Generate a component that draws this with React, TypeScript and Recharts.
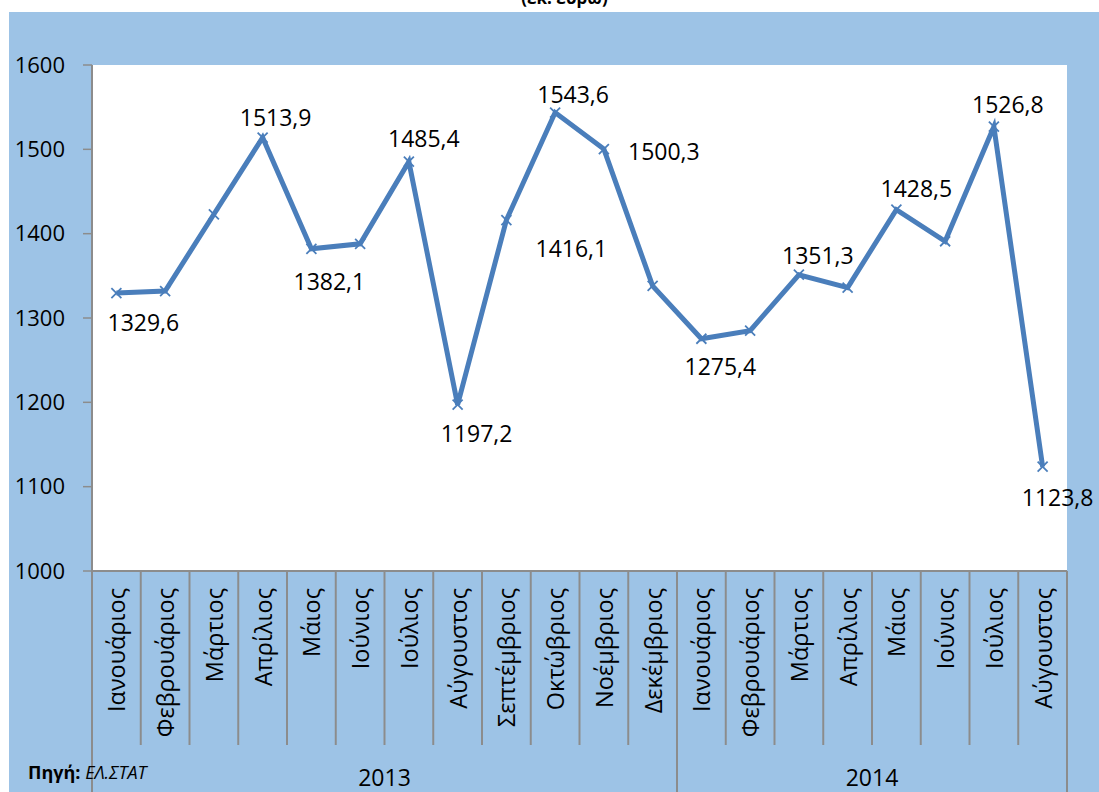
import { LineChart, Line, XAxis, YAxis, CartesianGrid, LabelList } from 'recharts';

const months2013 = [
  'Ιανουάριος', 'Φεβρουάριος', 'Μάρτιος', 'Απρίλιος', 'Μάιος', 'Ιούνιος',
  'Ιούλιος', 'Αύγουστος', 'Σεπτέμβριος', 'Οκτώβριος', 'Νοέμβριος', 'Δεκέμβριος',
];
const months2014 = [
  'Ιανουάριος', 'Φεβρουάριος', 'Μάρτιος', 'Απρίλιος', 'Μάιος', 'Ιούνιος',
  'Ιούλιος', 'Αύγουστος',
];
const values2013 = [1329.6, 1332, 1423, 1513.9, 1382.1, 1388, 1485.4, 1197.2, 1416.1, 1543.6, 1500.3, 1338];
const values2014 = [1275.4, 1285, 1351.3, 1336, 1428.5, 1391, 1526.8, 1123.8];
const years = ['2013', '2014'];
const yTicks = [1000, 1100, 1200, 1300, 1400, 1500, 1600];
// points that carry a data label in the original
const labelled = [0, 3, 4, 6, 7, 8, 9, 10, 12, 14, 16, 18, 19];

const data = [
  ...months2013.map((m, i) => ({ month: m, year: years[0], value: values2013[i] })),
  ...months2014.map((m, i) => ({ month: m, year: years[1], value: values2014[i] })),
];

// label placement relative to the point (dx, dy)
const LABEL_POS: Record<number, [number, number]> = {
  0: [27, 29], 3: [13, -21], 4: [18, 32], 6: [15, -24], 7: [19, 28],
  8: [65, 28], 9: [18, -19], 10: [60, 2], 12: [19, 27], 14: [19, -20],
  16: [20, -22], 18: [14, -23], 19: [15, 30],
};

const W = 1099;
const H = 792;
const LEFT = 92;
const RIGHT = 32;
const TOP = 65;
const BOTTOM = 571;
const BAND = (W - LEFT - RIGHT) / data.length;
const LINE = '#4A7EBB';
const GRID = '#8C8C8C';
const FONT = '"Open Sans", sans-serif';

const MonthTick = (props: any) => {
  const { x, payload } = props;
  const i = payload.index;
  const d = data[i];
  const groupStart = i === 0 || data[i - 1].year !== d.year;
  const groupIdx = data.filter((r) => r.year === d.year).map((r) => data.indexOf(r));
  const count = groupIdx.length;
  const mid = groupIdx[0] + Math.floor((count - 1) / 2);
  const yearX = count % 2 === 0 ? x + BAND / 2 : x;
  return (
    <g>
      <line x1={x - BAND / 2} x2={x - BAND / 2} y1={BOTTOM} y2={groupStart ? H : 745} stroke={GRID} strokeWidth={2} />
      {i === data.length - 1 && (
        <line x1={x + BAND / 2} x2={x + BAND / 2} y1={BOTTOM} y2={H} stroke={GRID} strokeWidth={2} />
      )}
      <text
        x={x}
        y={588}
        transform={`rotate(-90 ${x} 588)`}
        textAnchor="end"
        dominantBaseline="central"
        fontSize={23.5}
        fontFamily={FONT}
        fill="#000"
      >
        {d.month}
      </text>
      {i === mid && (
        <text x={yearX} y={786} textAnchor="middle" fontSize={23} fontFamily={FONT} fill="#000">
          {d.year}
        </text>
      )}
    </g>
  );
};

const Cross = (props: any) => {
  const { cx, cy, index } = props;
  const s = 5;
  return (
    <g key={`dot-${index}`}>
      <line x1={cx - s} y1={cy - s} x2={cx + s} y2={cy + s} stroke={LINE} strokeWidth={1.8} />
      <line x1={cx - s} y1={cy + s} x2={cx + s} y2={cy - s} stroke={LINE} strokeWidth={1.8} />
    </g>
  );
};

const ValueLabel = (props: any) => {
  const { x, y, value, index } = props;
  if (!labelled.includes(index)) return null;
  const [dx, dy] = LABEL_POS[index] ?? [0, -20];
  return (
    <text
      x={x + dx}
      y={y + dy}
      textAnchor="middle"
      dominantBaseline="central"
      fontSize={23}
      fontFamily={FONT}
      fill="#000"
    >
      {Number(value).toFixed(1).replace('.', ',')}
    </text>
  );
};

export default function App() {
  return (
    <div style={{ position: 'absolute', left: 0, top: 0, width: W, height: H, overflow: 'hidden', background: '#fff' }}>
      <div
        style={{
          position: 'absolute',
          left: 0,
          width: W,
          top: -14,
          textAlign: 'center',
          fontFamily: FONT,
          fontWeight: 700,
          fontSize: 17,
          paddingLeft: 30,
          boxSizing: 'border-box',
        }}
      >
        (εκ. ευρώ)
      </div>
      <div style={{ position: 'absolute', left: 9, top: 12, width: W - 9, height: H - 12, background: '#9DC3E6' }} />
      <div style={{ position: 'absolute', left: 0, top: 0 }}>
        <LineChart width={W} height={H} data={data} margin={{ top: TOP, right: RIGHT, left: 0, bottom: 0 }}>
          <CartesianGrid horizontal={false} vertical={false} fill="#fff" fillOpacity={1} />
          <XAxis
            dataKey="month"
            interval={0}
            tickLine={false}
            axisLine={{ stroke: GRID, strokeWidth: 2 }}
            height={H - BOTTOM}
            padding={{ left: BAND / 2, right: BAND / 2 }}
            tick={<MonthTick />}
          />
          <YAxis
            domain={[1000, 1600]}
            ticks={yTicks}
            width={LEFT}
            tickSize={9}
            tickMargin={18}
            axisLine={{ stroke: GRID, strokeWidth: 2 }}
            tickLine={{ stroke: GRID, strokeWidth: 1.5 }}
            tick={{ fontSize: 22, fontFamily: FONT, fill: '#000' }}
          />
          <Line
            type="linear"
            dataKey="value"
            stroke={LINE}
            strokeWidth={5}
            dot={Cross}
            activeDot={false}
            isAnimationActive={false}
          >
            <LabelList dataKey="value" content={ValueLabel} />
          </Line>
        </LineChart>
      </div>
      <div
        style={{
          position: 'absolute',
          left: 28,
          top: 760,
          fontFamily: FONT,
          fontSize: 18,
          color: '#000',
        }}
      >
        <b>Πηγή:</b> <i>ΕΛ.ΣΤΑΤ</i>
      </div>
    </div>
  );
}
